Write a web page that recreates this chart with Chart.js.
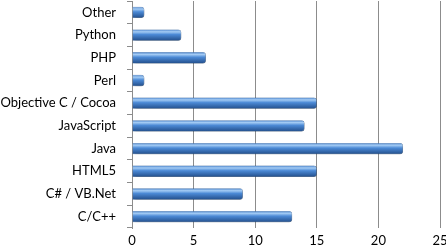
<!DOCTYPE html>
<html lang="en">
<head>
<meta charset="UTF-8">
<title>Languages</title>
<script src="https://cdn.jsdelivr.net/npm/chart.js@4"></script>
<style>
  html, body { margin: 0; padding: 0; background: #fff; }
  #wrap { width: 446px; height: 251px; }
</style>
</head>
<body>
<div id="wrap"><canvas id="myChart"></canvas></div>
<script>
var languages = ['Other', 'Python', 'PHP', 'Perl', 'Objective C / Cocoa', 'JavaScript', 'Java', 'HTML5', 'C# / VB.Net', 'C/C++'];
var counts = [1, 4, 6, 1, 15, 14, 22, 15, 9, 13];
var xTicks = [0, 5, 10, 15, 20, 25];

// cylinder look: vertical gradient per bar
function barFill(c) {
    var chart = c.chart;
    var y = chart.scales.y;
    if (!chart.chartArea || !y || c.dataIndex === undefined) return '#4a7ebb';
    var mid = y.getPixelForValue(c.dataIndex);
    var g = chart.ctx.createLinearGradient(0, mid - 5.5, 0, mid + 5.5);
    g.addColorStop(0, '#4f86cc');
    g.addColorStop(0.2, '#a3cbf4');
    g.addColorStop(0.45, '#4c8ad6');
    g.addColorStop(1, '#234f8c');
    return g;
}

var shadow = {
    id: 'shadow',
    beforeDatasetsDraw: function (chart) {
        var ctx = chart.ctx;
        ctx.save();
        ctx.shadowColor = 'rgba(0,0,0,0.3)';
        ctx.shadowBlur = 3;
        ctx.shadowOffsetX = 2;
        ctx.shadowOffsetY = 2;
    },
    afterDatasetsDraw: function (chart) {
        chart.ctx.restore();
    }
};

var ctx = document.getElementById('myChart').getContext('2d');
var myChart = new Chart(ctx, {
    type: 'bar',
    data: {
        labels: languages,
        datasets: [{
            data: counts,
            backgroundColor: barFill,
            borderColor: '#2f5f9a',
            borderWidth: 0.5,
            borderRadius: 3,
            borderSkipped: 'start',
            barPercentage: 0.5,
            categoryPercentage: 1
        }]
    },
    plugins: [shadow],
    options: {
        indexAxis: 'y',
        responsive: true,
        maintainAspectRatio: false,
        animation: false,
        layout: { padding: { top: 1, right: 6, left: 0, bottom: 0 } },
        plugins: {
            legend: { display: false },
            tooltip: { enabled: false }
        },
        scales: {
            x: {
                min: 0,
                max: 25,
                afterBuildTicks: function (axis) {
                    axis.ticks = xTicks.map(function (v) { return { value: v }; });
                },
                afterFit: function (axis) {
                    axis.height = 23;
                    axis.paddingLeft = 0;
                    axis.paddingRight = 0;
                },
                grid: { color: '#8c8c8c', lineWidth: 1, drawTicks: false },
                border: { display: false },
                ticks: {
                    color: '#000',
                    padding: 5,
                    font: { family: 'Lato', size: 13 }
                }
            },
            y: {
                afterFit: function (axis) {
                    axis.width = 132;
                    axis.paddingTop = 0;
                    axis.paddingBottom = 0;
                },
                grid: { display: true, drawOnChartArea: false, color: '#8c8c8c', tickLength: 5 },
                border: { display: true, color: '#8c8c8c' },
                ticks: {
                    color: '#000',
                    padding: 11,
                    font: { family: 'Lato', size: 13 }
                }
            }
        }
    }
});
</script>
</body>
</html>
